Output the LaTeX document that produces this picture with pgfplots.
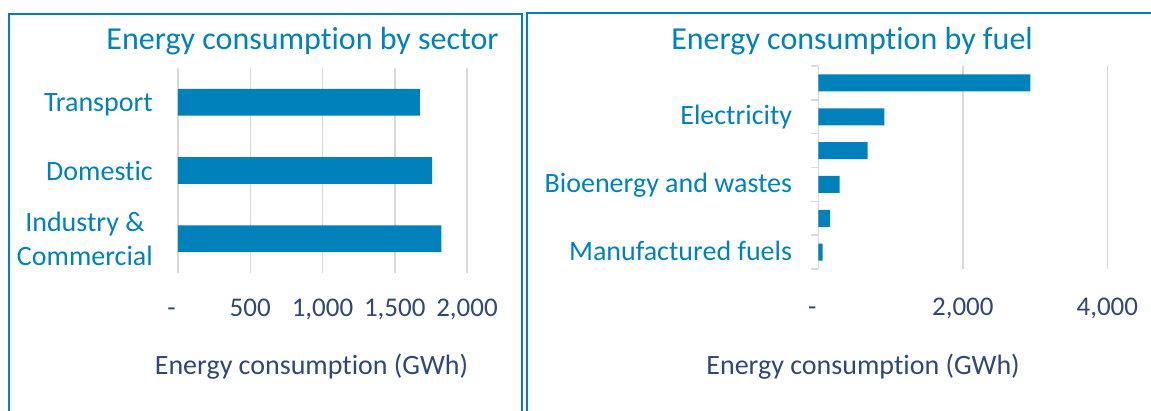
\documentclass[border=0pt]{standalone}
\usepackage{fontspec}
\setmainfont{Carlito}[Ligatures=NoCommon]
\usepackage{pgfplots}
\pgfplotsset{compat=1.18}
\definecolor{barblue}{RGB}{0,129,188}
\definecolor{navy}{RGB}{47,72,120}
\definecolor{gridgray}{RGB}{217,217,217}
\begin{document}
\begin{tikzpicture}[x=1pt,y=1pt]
\clip (0,0) rectangle (1151,410);
\draw[barblue, line width=2pt] (8.5,-20) -- (8.5,396) -- (521.5,396) -- (521.5,-20);
\draw[barblue, line width=2pt] (527,-20) -- (527,397) -- (1170,397);

\begin{axis}[
  at={(178pt,342pt)}, anchor=north west,
  scale only axis, width=289pt, height=205pt,
  xbar, bar width=26.7pt,
  xmin=0, xmax=2000, ymin=-0.5, ymax=2.5,
  xtick={0,500,1000,1500,2000},
  xticklabels={{-\hspace*{13pt}},500,{1,000},{1,500},{2,000}},
  ytick={0,1,2},
  yticklabels={{Industry \&\\Commercial},{\raisebox{0pt}[\height][0pt]{Domestic}},{\raisebox{0pt}[\height][0pt]{Transport}}},
  xmajorgrids, grid style={gridgray, line width=1.5pt},
  axis line style={draw=none},
  major tick length=0pt,
  xticklabel style={font=\fontsize{27}{32}\selectfont, color=navy, anchor=base, yshift=-43.7pt, inner sep=0pt},
  yticklabel style={font=\fontsize{28}{34}\selectfont, color=barblue, align=center, anchor=east, inner sep=0pt, xshift=-25pt},
  title={Energy consumption by sector},
  title style={at={(axis description cs:0.431,1.061)}, anchor=base, inner sep=0pt, font=\fontsize{32}{38}\selectfont, color=barblue},
  xlabel={Energy consumption (GWh)},
  xlabel style={at={(axis description cs:0.462,-0.494)}, anchor=base, inner sep=0pt, font=\fontsize{28}{34}\selectfont, color=navy},
]
\addplot[fill=barblue, draw=none] coordinates {(1823,0) (1759,1) (1673,2)};
\end{axis}

\begin{axis}[
  at={(818.3pt,344pt)}, anchor=north west,
  scale only axis, width=289pt, height=203pt,
  xbar, bar width=17pt,
  xmin=0, xmax=4000, ymin=-0.5, ymax=5.5,
  xtick={0,2000,4000},
  xticklabels={{-\hspace*{12pt}},{2,000},{4,000}},
  ytick={0,1,2,3,4,5},
  yticklabels={Manufactured fuels,,Bioenergy and wastes,,Electricity,},
  extra y ticks={-0.5,0.5,1.5,2.5,3.5,4.5,5.5},
  extra y tick labels={},
  extra y tick style={major tick length=7pt, tick align=outside, tick style={gridgray, line width=1.5pt}},
  ytick pos=left,
  xmajorgrids, grid style={gridgray, line width=1.5pt},
  axis line style={draw=none},
  major tick length=0pt,
  xticklabel style={font=\fontsize{27}{32}\selectfont, color=navy, anchor=base, yshift=-46pt, inner sep=0pt},
  yticklabel style={font=\fontsize{28}{34}\selectfont, color=barblue, anchor=base east, inner sep=0pt, xshift=-26pt, yshift=-8pt},
  title={Energy consumption by fuel},
  title style={at={(axis description cs:0.117,1.051)}, anchor=base, inner sep=0pt, font=\fontsize{32}{38}\selectfont, color=barblue},
  xlabel={Energy consumption (GWh)},
  xlabel style={at={(axis description cs:0.155,-0.519)}, anchor=base, inner sep=0pt, font=\fontsize{28}{34}\selectfont, color=navy},
]
\addplot[fill=barblue, draw=none] coordinates {(61,0) (162,1) (296,2) (684,3) (913,4) (2934,5)};
\end{axis}
\end{tikzpicture}
\end{document}
